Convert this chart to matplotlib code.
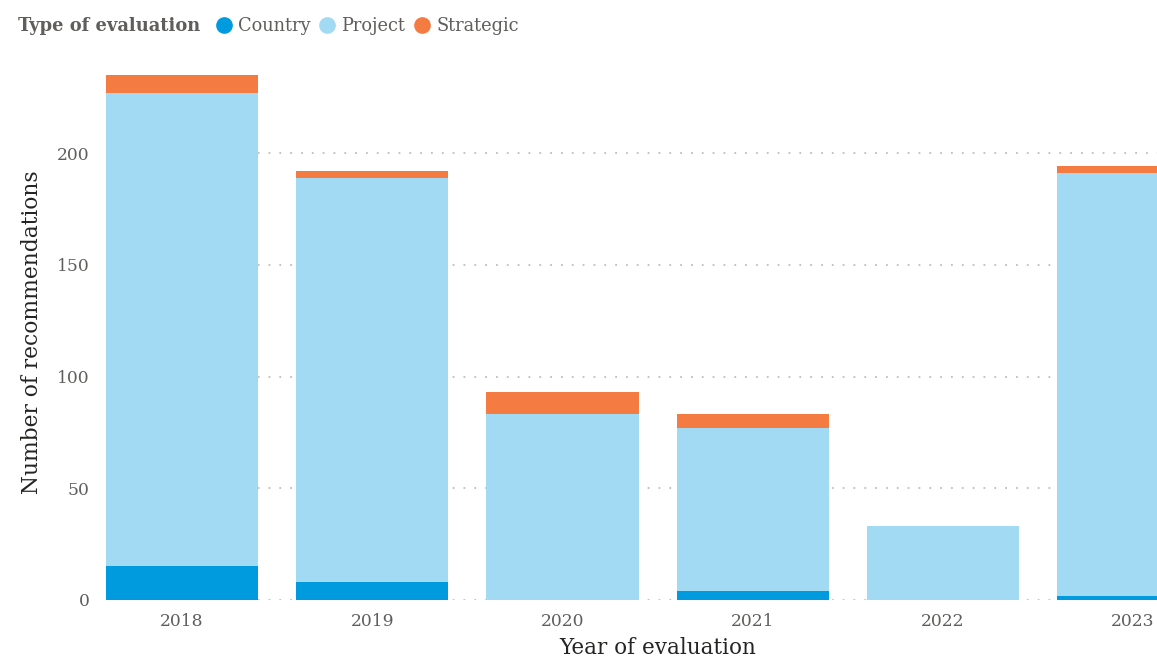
import matplotlib
matplotlib.use("Agg")
import matplotlib.pyplot as plt
from matplotlib.lines import Line2D
import numpy as np

years = ["2018", "2019", "2020", "2021", "2022", "2023"]
country = [15, 8, 0, 4, 0, 2]
project = [212, 181, 83, 73, 33, 189]
strategic = [8, 3, 10, 6, 0, 3]
series_names = ["Country", "Project", "Strategic"]
colors = ["#009ADE", "#A3DAF3", "#F47B42"]

plt.rcParams['font.family'] = ['DejaVu Serif']

fig = plt.figure(figsize=(11.57, 6.57), dpi=100)
ax = fig.add_axes([106/1157, 57/657, 1 - 106/1157, 536.4/657])

x = np.arange(len(years))
bottom = np.zeros(len(years))
for vals, col in zip([country, project, strategic], colors):
    ax.bar(x, vals, width=0.8, bottom=bottom, color=col, zorder=3, linewidth=0)
    bottom += np.array(vals)

ax.set_xlim(-0.4, 5.126)
ax.set_ylim(0, 240)
ax.set_yticks([0, 50, 100, 150, 200])
ax.set_xticks(x)
ax.set_xticklabels(years)
ax.tick_params(axis='both', length=0, labelsize=12.3, labelcolor="#605E5C")
ax.tick_params(axis='y', pad=12)
ax.tick_params(axis='x', pad=9)
ax.yaxis.grid(True, linestyle=(0, (1, 5)), linewidth=1.3, color="#C0BEBC", zorder=0)
ax.set_axisbelow(True)
for s in ax.spines.values():
    s.set_visible(False)

ax.set_ylabel("Number of recommendations", fontsize=15.7, color="#252423")
ax.set_xlabel("Year of evaluation", fontsize=15.5, color="#252423")
# axis label positions (in pixel terms of the figure)
ax.yaxis.set_label_coords((32 - 106) / (1157 - 106), 0.5)
ax.xaxis.set_label_coords((658 - 106) / (1157 - 106), -(648 - 600) / 536.4)
ax.xaxis.label.set_va('center')
ax.yaxis.label.set_va('center')

fig.text(18/1157, 1 - 26/657, "Type of evaluation", fontsize=12.9, fontweight='bold',
         color="#605E5C", va='center', ha='left')
handles = [Line2D([], [], marker='o', linestyle='', markersize=11, color=c) for c in colors]
fig.legend(handles, series_names, loc='center left', bbox_to_anchor=(213/1157, 1 - 26/657),
           ncol=3, frameon=False, fontsize=12.8, handletextpad=0.2, columnspacing=0.35,
           borderaxespad=0, borderpad=0, labelcolor="#605E5C", handlelength=1.2)

fig.savefig("out.png", dpi=100)
